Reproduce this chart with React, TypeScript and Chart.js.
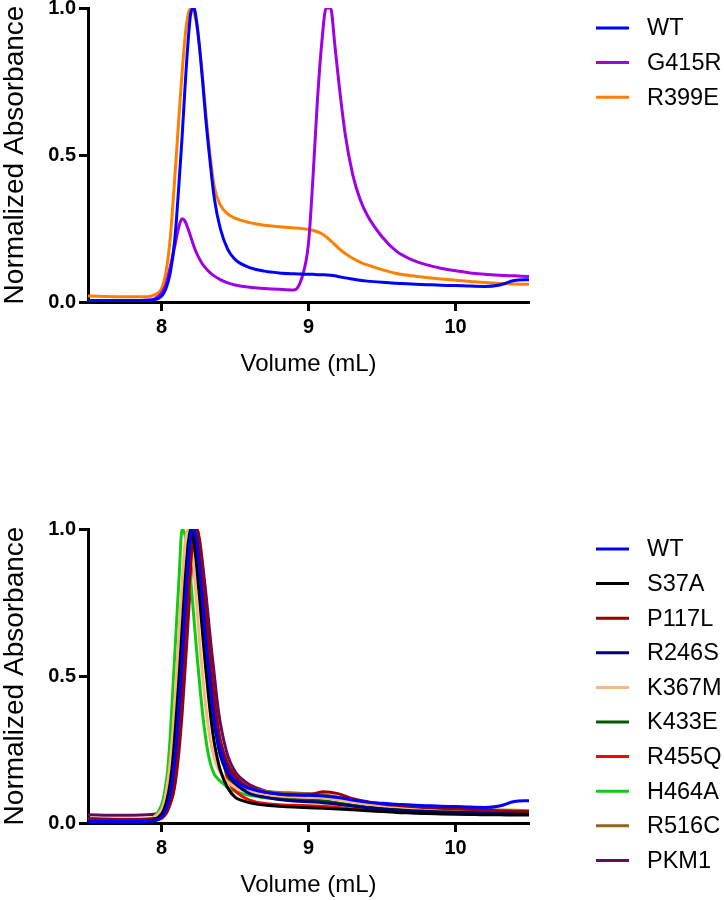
import React, { useEffect, useRef } from "react";
import { Chart, registerables } from "chart.js";

Chart.register(...registerables);

const FONT = "'Liberation Sans', Arial, Helvetica, sans-serif";

// ---------- axis ticks ----------
const X_TICKS = [8, 9, 10];
const Y_TICKS = [0, 0.5, 1.0];
const X_MIN = 7.5;
const X_MAX = 10.5;

// ---------- top chart (volume grid, mL) ----------
const VOL_A = [
  7.5, 7.7, 7.9, 7.95, 8.0,
  8.03, 8.06, 8.09, 8.12, 8.14,
  8.16, 8.18, 8.2, 8.22, 8.24,
  8.26, 8.28, 8.3, 8.33, 8.36,
  8.4, 8.45, 8.5, 8.6, 8.7,
  8.8, 8.9, 8.95, 9.0, 9.03,
  9.06, 9.09, 9.12, 9.15, 9.18,
  9.21, 9.25, 9.3, 9.35, 9.4,
  9.5, 9.6, 9.7, 9.8, 9.9,
  10.0, 10.1, 10.2, 10.3, 10.4,
  10.5,
];

const WT_A = [
  0.005, 0.005, 0.006, 0.008, 0.02,
  0.045, 0.1, 0.21, 0.41, 0.56,
  0.73, 0.88, 0.985, 1.0, 0.95,
  0.86, 0.75, 0.63, 0.48, 0.35,
  0.25, 0.18, 0.145, 0.117, 0.105,
  0.099, 0.096, 0.095, 0.094, 0.094,
  0.093, 0.093, 0.092, 0.091, 0.089,
  0.086, 0.082, 0.078, 0.074, 0.071,
  0.067, 0.064, 0.061, 0.059, 0.057,
  0.056, 0.054, 0.053, 0.058, 0.073,
  0.076,
];

const G415R_A = [
  0.004, 0.004, 0.006, 0.01, 0.03,
  0.06, 0.12, 0.19, 0.26, 0.283,
  0.275, 0.25, 0.22, 0.19, 0.165,
  0.145, 0.128, 0.116, 0.1, 0.088,
  0.076, 0.065, 0.058, 0.05, 0.046,
  0.043, 0.041, 0.075, 0.2, 0.42,
  0.68, 0.88, 1.0, 1.0, 0.87,
  0.73, 0.57, 0.435, 0.35, 0.295,
  0.222, 0.172, 0.144, 0.127, 0.115,
  0.106, 0.099, 0.094, 0.091, 0.089,
  0.087,
];

const R399E_A = [
  0.02, 0.018, 0.018, 0.024, 0.045,
  0.1, 0.22, 0.42, 0.64, 0.78,
  0.9, 0.975, 1.0, 0.985, 0.94,
  0.86, 0.76, 0.65, 0.5, 0.39,
  0.33, 0.3, 0.285, 0.27, 0.261,
  0.256, 0.252, 0.25, 0.247, 0.244,
  0.239, 0.232, 0.222, 0.209, 0.195,
  0.181, 0.165, 0.149, 0.136, 0.126,
  0.11, 0.097, 0.089, 0.083, 0.078,
  0.074, 0.07, 0.066, 0.063, 0.061,
  0.06,
];

// ---------- bottom chart (volume grid, mL) ----------
const VOL_B = [
  7.5, 7.7, 7.9, 7.95, 8.0,
  8.02, 8.04, 8.06, 8.08, 8.1,
  8.12, 8.14, 8.16, 8.18, 8.2,
  8.22, 8.24, 8.26, 8.28, 8.3,
  8.32, 8.34, 8.36, 8.38, 8.4,
  8.45, 8.5, 8.55, 8.6, 8.7,
  8.8, 8.9, 9.0, 9.1, 9.2,
  9.3, 9.4, 9.5, 9.6, 9.7,
  9.8, 9.9, 10.0, 10.1, 10.2,
  10.3, 10.4, 10.5,
];

const WT_B = [
  0.005, 0.005, 0.006, 0.008, 0.02,
  0.035, 0.06, 0.1, 0.17, 0.27,
  0.4, 0.56, 0.73, 0.88, 0.985,
  1.0, 0.95, 0.86, 0.75, 0.63,
  0.53, 0.43, 0.35, 0.29, 0.25,
  0.18, 0.145, 0.127, 0.117, 0.105,
  0.099, 0.096, 0.094, 0.092, 0.087,
  0.078, 0.071, 0.067, 0.064, 0.061,
  0.059, 0.057, 0.056, 0.054, 0.053,
  0.058, 0.073, 0.076,
];

const S37A_B = [
  0.005, 0.005, 0.006, 0.01, 0.03,
  0.05, 0.085, 0.14, 0.23, 0.36,
  0.5, 0.66, 0.82, 0.94, 1.0,
  0.96, 0.87, 0.76, 0.64, 0.53,
  0.43, 0.34, 0.27, 0.22, 0.18,
  0.12, 0.088, 0.076, 0.069, 0.061,
  0.057, 0.054, 0.052, 0.05, 0.048,
  0.045, 0.042, 0.039, 0.036, 0.034,
  0.032, 0.031, 0.03, 0.029, 0.028,
  0.028, 0.027, 0.027,
];

const P117L_B = [
  0.015, 0.013, 0.014, 0.015, 0.018,
  0.025, 0.04, 0.065, 0.105, 0.175,
  0.28, 0.41, 0.57, 0.74, 0.89,
  0.985, 1.0, 0.93, 0.83, 0.72,
  0.61, 0.51, 0.42, 0.34, 0.28,
  0.2, 0.16, 0.135, 0.12, 0.105,
  0.098, 0.095, 0.096, 0.106, 0.1,
  0.083, 0.072, 0.065, 0.06, 0.056,
  0.053, 0.05, 0.048, 0.046, 0.044,
  0.042, 0.041, 0.04,
];

const R246S_B = [
  0.005, 0.005, 0.006, 0.008, 0.02,
  0.035, 0.058, 0.098, 0.165, 0.26,
  0.39, 0.55, 0.72, 0.87, 0.975,
  1.0, 0.955, 0.87, 0.76, 0.64,
  0.53, 0.43, 0.34, 0.28, 0.23,
  0.17, 0.135, 0.115, 0.1, 0.088,
  0.08, 0.075, 0.072, 0.069, 0.064,
  0.058, 0.052, 0.048, 0.044, 0.041,
  0.039, 0.037, 0.036, 0.035, 0.034,
  0.033, 0.032, 0.031,
];

const K367M_B = [
  0.01, 0.01, 0.012, 0.02, 0.045,
  0.075, 0.13, 0.21, 0.33, 0.49,
  0.66, 0.82, 0.95, 1.0, 0.96,
  0.87, 0.74, 0.61, 0.5, 0.4,
  0.32, 0.26, 0.22, 0.19, 0.17,
  0.14, 0.122, 0.112, 0.105, 0.097,
  0.092, 0.089, 0.087, 0.085, 0.08,
  0.072, 0.065, 0.059, 0.055, 0.052,
  0.05, 0.048, 0.047, 0.046, 0.045,
  0.044, 0.043, 0.042,
];

const K433E_B = [
  0.008, 0.008, 0.009, 0.012, 0.025,
  0.04, 0.065, 0.105, 0.175, 0.28,
  0.41, 0.57, 0.74, 0.885, 0.98,
  1.0, 0.95, 0.86, 0.75, 0.63,
  0.52, 0.42, 0.34, 0.28, 0.235,
  0.165, 0.13, 0.115, 0.105, 0.092,
  0.085, 0.081, 0.078, 0.075, 0.068,
  0.06, 0.054, 0.05, 0.046, 0.043,
  0.041, 0.039, 0.038, 0.037, 0.036,
  0.036, 0.035, 0.035,
];

const R455Q_B = [
  0.01, 0.01, 0.011, 0.012, 0.015,
  0.028, 0.048, 0.08, 0.135, 0.22,
  0.33, 0.48, 0.65, 0.81, 0.94,
  1.0, 0.97, 0.89, 0.79, 0.68,
  0.57, 0.47, 0.38, 0.31, 0.26,
  0.15, 0.11, 0.09, 0.078, 0.066,
  0.062, 0.06, 0.059, 0.057, 0.053,
  0.048, 0.044, 0.04, 0.038, 0.036,
  0.034, 0.033, 0.032, 0.031, 0.03,
  0.03, 0.03, 0.03,
];

const H464A_B = [
  0.005, 0.005, 0.01, 0.02, 0.06,
  0.1, 0.17, 0.3, 0.48, 0.66,
  0.84, 1.0, 0.98, 0.92, 0.82,
  0.7, 0.58, 0.47, 0.37, 0.29,
  0.23, 0.19, 0.165, 0.152, 0.142,
  0.121, 0.108, 0.1, 0.094, 0.086,
  0.082, 0.08, 0.078, 0.074, 0.066,
  0.058, 0.052, 0.048, 0.045, 0.043,
  0.041, 0.04, 0.039, 0.038, 0.037,
  0.036, 0.035, 0.034,
];

const R516C_B = [
  0.01, 0.01, 0.012, 0.014, 0.018,
  0.03, 0.05, 0.082, 0.135, 0.22,
  0.33, 0.48, 0.65, 0.81, 0.94,
  1.0, 0.97, 0.89, 0.79, 0.68,
  0.58, 0.48, 0.4, 0.33, 0.28,
  0.2, 0.16, 0.135, 0.12, 0.108,
  0.104, 0.102, 0.1, 0.096, 0.088,
  0.078, 0.07, 0.063, 0.058, 0.054,
  0.051, 0.049, 0.047, 0.046, 0.045,
  0.044, 0.043, 0.042,
];

const PKM1_B = [
  0.028, 0.026, 0.028, 0.03, 0.035,
  0.04, 0.05, 0.07, 0.1, 0.16,
  0.25, 0.37, 0.52, 0.68, 0.84,
  0.95, 1.0, 0.96, 0.88, 0.79,
  0.69, 0.59, 0.5, 0.41, 0.34,
  0.23, 0.175, 0.148, 0.13, 0.11,
  0.1, 0.094, 0.09, 0.087, 0.082,
  0.074, 0.066, 0.06, 0.055, 0.051,
  0.048, 0.045, 0.043, 0.041, 0.039,
  0.038, 0.037, 0.036,
];

type Series = { label: string; color: string; values: number[] };

const SERIES_A: Series[] = [
  { label: "WT", color: "#0000FF", values: WT_A },
  { label: "G415R", color: "#A000E6", values: G415R_A },
  { label: "R399E", color: "#FF8000", values: R399E_A },
];

const SERIES_B: Series[] = [
  { label: "WT", color: "#0000FF", values: WT_B },
  { label: "S37A", color: "#000000", values: S37A_B },
  { label: "P117L", color: "#9A0000", values: P117L_B },
  { label: "R246S", color: "#00007F", values: R246S_B },
  { label: "K367M", color: "#F9B77D", values: K367M_B },
  { label: "K433E", color: "#005A00", values: K433E_B },
  { label: "R455Q", color: "#FF0000", values: R455Q_B },
  { label: "H464A", color: "#10CC10", values: H464A_B },
  { label: "R516C", color: "#95631C", values: R516C_B },
  { label: "PKM1", color: "#650A60", values: PKM1_B },
];

const sideLegend = {
  id: "sideLegend",
  afterDraw(chart: any, _args: any, opts: any) {
    const ctx = chart.ctx;
    ctx.save();
    chart.data.datasets.forEach((ds: any, i: number) => {
      const y = opts.y0 + i * opts.gap;
      ctx.strokeStyle = ds.borderColor;
      ctx.lineWidth = 3;
      ctx.beginPath();
      ctx.moveTo(opts.x0, y);
      ctx.lineTo(opts.x1, y);
      ctx.stroke();
      ctx.fillStyle = "#000";
      ctx.font = `23.5px ${FONT}`;
      ctx.textAlign = "left";
      ctx.textBaseline = "middle";
      ctx.fillText(ds.label, opts.tx, y + 1);
    });
    ctx.restore();
  },
};

function Panel(props: {
  top: number;
  height: number;
  vol: number[];
  series: Series[];
  titlePad: number;
}) {
  const ref = useRef<HTMLCanvasElement>(null);
  useEffect(() => {
    const { height, vol, series, titlePad } = props;
    const chart = new Chart(ref.current as HTMLCanvasElement, {
      type: "line",
      data: {
        datasets: series.map((s) => ({
          label: s.label,
          data: vol.map((x, i) => ({ x, y: s.values[i] })),
          borderColor: s.color,
          backgroundColor: s.color,
          borderWidth: 3,
          pointRadius: 0,
          fill: false,
          cubicInterpolationMode: "monotone",
        })),
      },
      plugins: [sideLegend as any],
      options: {
        responsive: false,
        animation: false,
        devicePixelRatio: 1,
        layout: { autoPadding: false, padding: { left: 0, top: 8, right: 195, bottom: 0 } },
        plugins: {
          legend: { display: false },
          tooltip: { enabled: false },
          sideLegend: { x0: 596, x1: 629, tx: 647, y0: 28, gap: 34.6 },
        } as any,
        scales: {
          x: {
            type: "linear",
            min: X_MIN,
            max: X_MAX,
            afterBuildTicks: (s: any) => {
              s.ticks = X_TICKS.map((v) => ({ value: v }));
            },
            afterFit: (s: any) => {
              s.height = height - 302;
              s.paddingLeft = 0;
              s.paddingRight = 0;
            },
            grid: {
              display: true,
              drawOnChartArea: false,
              drawTicks: true,
              tickLength: 9,
              tickWidth: 3,
              tickColor: "#000",
            },
            border: { display: true, color: "#000", width: 3 },
            ticks: {
              color: "#000",
              padding: 4,
              maxRotation: 0,
              autoSkip: false,
              font: { family: FONT, size: 20, weight: "bold" },
              callback: (v: any) => String(v),
            },
            title: {
              display: true,
              text: "Volume (mL)",
              color: "#000",
              font: { family: FONT, size: 24, lineHeight: 1 },
              padding: { top: 0, bottom: titlePad },
            },
          },
          y: {
            min: 0,
            max: 1,
            afterBuildTicks: (s: any) => {
              s.ticks = Y_TICKS.map((v) => ({ value: v }));
            },
            afterFit: (s: any) => {
              s.width = 88;
              s.paddingTop = 0;
              s.paddingBottom = 0;
            },
            grid: {
              display: true,
              drawOnChartArea: false,
              drawTicks: true,
              tickLength: 9,
              tickWidth: 3,
              tickColor: "#000",
            },
            border: { display: true, color: "#000", width: 3 },
            ticks: {
              color: "#000",
              padding: 3,
              autoSkip: false,
              font: { family: FONT, size: 20, weight: "bold" },
              callback: (v: any) => Number(v).toFixed(1),
            },
            title: {
              display: true,
              text: "Normalized Absorbance",
              color: "#000",
              font: { family: FONT, size: 28, lineHeight: 1 },
              padding: { top: 1, bottom: 0 },
            },
          },
        } as any,
      },
    } as any);
    return () => chart.destroy();
  }, []);
  return (
    <canvas
      ref={ref}
      width={724}
      height={props.height}
      style={{ position: "absolute", left: 0, top: props.top, width: 724, height: props.height }}
    />
  );
}

export default function App() {
  return (
    <div style={{ position: "absolute", left: 0, top: 0, width: 724, height: 900, background: "#fff" }}>
      <Panel top={0} height={400} vol={VOL_A} series={SERIES_A} titlePad={24} />
      <Panel top={521} height={379} vol={VOL_B} series={SERIES_B} titlePad={3} />
    </div>
  );
}
